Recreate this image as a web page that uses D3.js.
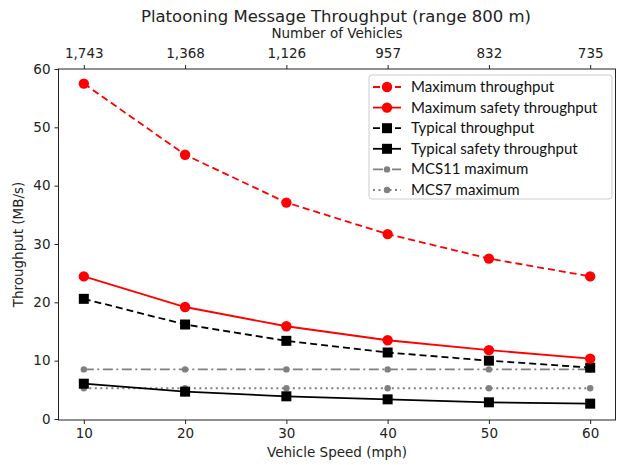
<!DOCTYPE html>
<html><head><meta charset="utf-8">
<script src="https://cdn.jsdelivr.net/npm/d3@7"></script>
<style>body{margin:0;background:#fff;} svg{display:block;}</style>
</head><body>
<svg id="chart" width="618" height="465"></svg>
<script>
const speeds = [10, 20, 30, 40, 50, 60];
const vehicleLabels = ["1,743", "1,368", "1,126", "957", "832", "735"];
const yTicks = [0, 10, 20, 30, 40, 50, 60];
const maxThroughput = [57.5, 45.3, 37.1, 31.7, 27.5, 24.45];
const maxSafety = [24.45, 19.2, 15.9, 13.5, 11.8, 10.35];
const typicalThroughput = [20.6, 16.2, 13.4, 11.4, 10.0, 8.8];
const typicalSafety = [6.05, 4.69, 3.89, 3.37, 2.86, 2.63];
const mcs11 = [8.5, 8.5, 8.5, 8.5, 8.5, 8.5];
const mcs7 = [5.27, 5.27, 5.27, 5.27, 5.27, 5.27];
const seriesNames = ["Maximum throughput", "Maximum safety throughput", "Typical throughput", "Typical safety throughput", "MCS11 maximum", "MCS7 maximum"];

const series = [
  {name: seriesNames[0], values: maxThroughput, color: "#ff0000", dash: "7,4", marker: "circle", size: 5.2, lw: 1.8},
  {name: seriesNames[1], values: maxSafety, color: "#ff0000", dash: null, marker: "circle", size: 5.2, lw: 1.8},
  {name: seriesNames[2], values: typicalThroughput, color: "#000000", dash: "7,4", marker: "square", size: 10, lw: 1.8},
  {name: seriesNames[3], values: typicalSafety, color: "#000000", dash: null, marker: "square", size: 10, lw: 1.8},
  {name: seriesNames[4], values: mcs11, color: "#808080", dash: "10,3.5,2,3.5", marker: "circle", size: 3.2, lw: 1.8},
  {name: seriesNames[5], values: mcs7, color: "#808080", dash: "2,3.5", marker: "circle", size: 3.2, lw: 1.8}
];

const svg = d3.select("#chart");
const L = 58.5, R = 615.5, T = 69, B = 420;
const x = d3.scaleLinear().domain([7.5, 62.5]).range([L, R]);
const y = d3.scaleLinear().domain([0, 60]).range([419, 69]);
const font = "DejaVu Sans, sans-serif";
const fs = 13.5;

// title
svg.append("text").attr("x", 336).attr("y", 22).attr("text-anchor", "middle")
  .attr("font-family", font).attr("font-size", 16.5).attr("fill", "#222")
  .text("Platooning Message Throughput (range 800 m)");
svg.append("text").attr("x", 337).attr("y", 38).attr("text-anchor", "middle")
  .attr("font-family", font).attr("font-size", fs).attr("fill", "#222")
  .text("Number of Vehicles");

// axes
const gx = svg.append("g").attr("transform", `translate(0,${B})`)
  .call(d3.axisBottom(x).tickValues(speeds).tickSize(4).tickPadding(4));
const gxt = svg.append("g").attr("transform", `translate(0,${T})`)
  .call(d3.axisTop(x).tickValues(speeds).tickSize(4).tickPadding(7).tickFormat((d, i) => vehicleLabels[i]));
const gy = svg.append("g").attr("transform", `translate(${L},0)`)
  .call(d3.axisLeft(y).tickValues(yTicks).tickSize(4).tickPadding(4));
[gx, gxt, gy].forEach(g => {
  g.select(".domain").remove();
  g.selectAll("text").attr("font-family", font).attr("font-size", fs).attr("fill", "#222");
  g.selectAll("line").attr("stroke", "#222");
});
svg.append("rect").attr("x", L).attr("y", T).attr("width", R - L).attr("height", B - T)
  .attr("fill", "none").attr("stroke", "#222").attr("stroke-width", 1);

svg.append("text").attr("transform", `translate(23,${(T + B) / 2}) rotate(-90)`)
  .attr("text-anchor", "middle").attr("font-family", font).attr("font-size", fs).attr("fill", "#222")
  .text("Throughput (MB/s)");
svg.append("text").attr("x", (L + R) / 2).attr("y", 457).attr("text-anchor", "middle")
  .attr("font-family", font).attr("font-size", fs).attr("fill", "#222")
  .text("Vehicle Speed (mph)");

// series
const line = d3.line().x((d, i) => x(speeds[i])).y(d => y(d));
function drawMarker(g, s, cx, cy) {
  if (s.marker === "circle") {
    g.append("circle").attr("cx", cx).attr("cy", cy).attr("r", s.size).attr("fill", s.color);
  } else {
    g.append("rect").attr("x", cx - s.size / 2).attr("y", cy - s.size / 2)
      .attr("width", s.size).attr("height", s.size).attr("fill", s.color);
  }
}
const plot = svg.append("g");
series.slice().reverse().forEach(s => {
  const g = plot.append("g");
  g.append("path").datum(s.values).attr("d", line).attr("fill", "none")
    .attr("stroke", s.color).attr("stroke-width", s.lw)
    .attr("stroke-dasharray", s.dash);
  s.values.forEach((v, i) => drawMarker(g, s, x(speeds[i]), y(v)));
});

// legend
const lg = svg.append("g").attr("transform", "translate(369,75)");
lg.append("rect").attr("x", 0).attr("y", 0).attr("width", 243).attr("height", 124).attr("rx", 3)
  .attr("fill", "#fff").attr("fill-opacity", 0.85).attr("stroke", "#ccc");
series.forEach((s, i) => {
  const yy = 12 + i * 20.6;
  lg.append("line").attr("x1", 4).attr("x2", 32).attr("y1", yy).attr("y2", yy)
    .attr("stroke", s.color).attr("stroke-width", s.lw).attr("stroke-dasharray", s.dash);
  drawMarker(lg, s, 18, yy);
  lg.append("text").attr("x", 42).attr("y", yy + 5).attr("font-family", "Lato, sans-serif")
    .attr("font-size", 15).attr("fill", "#111").text(s.name);
});
</script>
</body></html>
